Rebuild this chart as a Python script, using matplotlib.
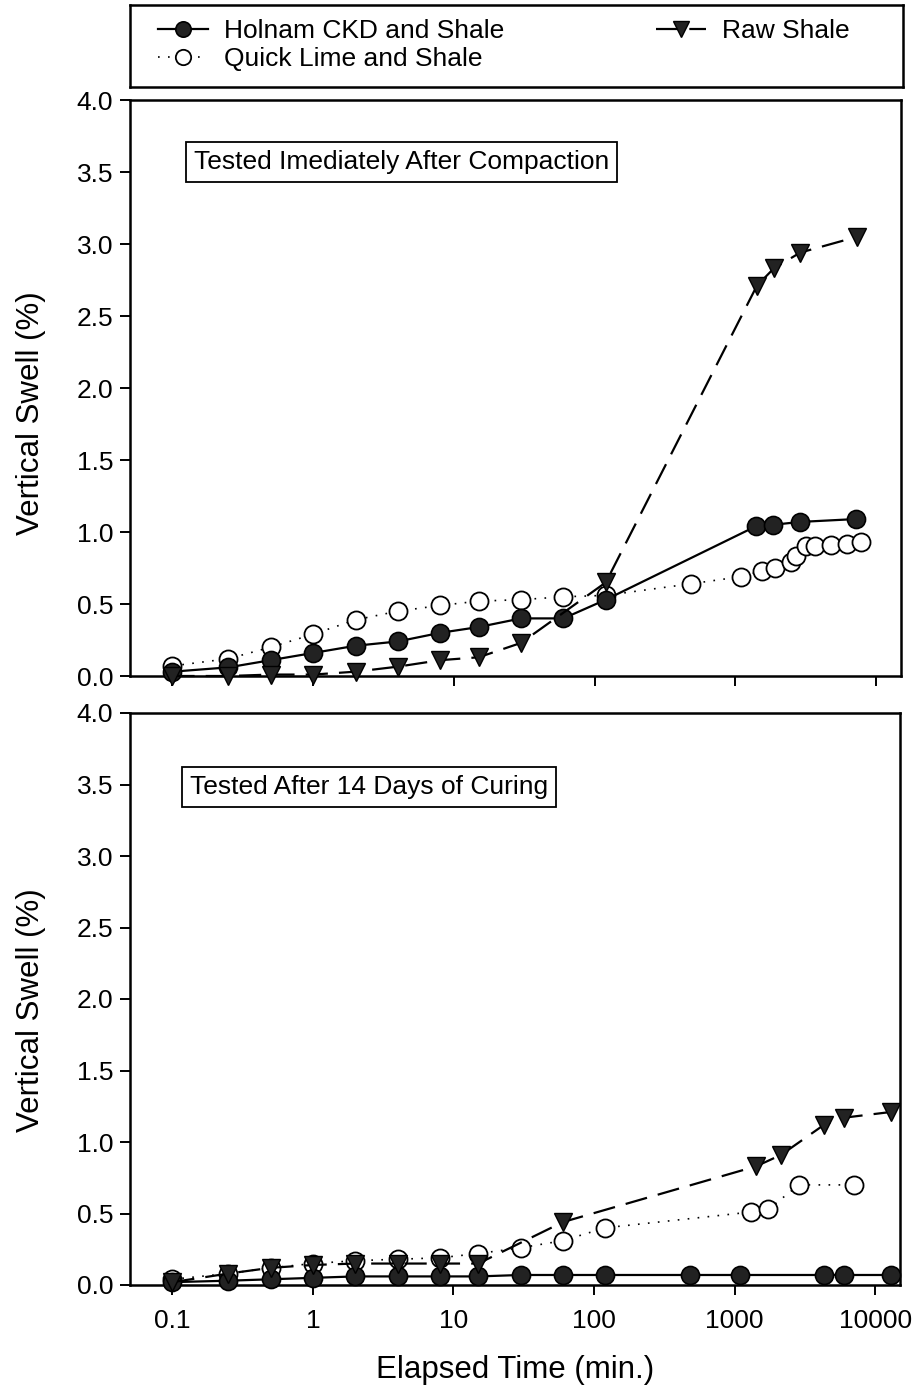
import matplotlib
matplotlib.use("Agg")
import matplotlib.pyplot as plt

plt.rcParams['font.family'] = ['Liberation Sans', 'DejaVu Sans']

# ---------------- data ----------------
# Top panel: tested immediately after compaction
top_ckd_t = [0.1, 0.25, 0.5, 1, 2, 4, 8, 15, 30, 60, 120, 1400, 1850, 2880, 7200]
top_ckd_v = [0.03, 0.06, 0.11, 0.16, 0.21, 0.24, 0.30, 0.34, 0.40, 0.40, 0.53, 1.04, 1.05, 1.07, 1.09]

top_lime_t = [0.1, 0.25, 0.5, 1, 2, 4, 8, 15, 30, 60, 120, 480, 1100, 1540, 1900, 2480, 2700, 3180, 3680, 4800, 6200, 7800]
top_lime_v = [0.07, 0.12, 0.20, 0.29, 0.39, 0.45, 0.49, 0.52, 0.53, 0.55, 0.56, 0.64, 0.69, 0.73, 0.75, 0.79, 0.83, 0.90, 0.90, 0.91, 0.92, 0.93]

top_raw_t = [0.1, 0.25, 0.5, 1, 2, 4, 8, 15, 30, 120, 1420, 1870, 2880, 7300]
top_raw_v = [0.0, 0.0, 0.01, 0.01, 0.03, 0.065, 0.11, 0.13, 0.23, 0.65, 2.71, 2.83, 2.94, 3.05]

# Bottom panel: tested after 14 days of curing
bot_ckd_t = [0.1, 0.25, 0.5, 1, 2, 4, 8, 15, 30, 60, 120, 480, 1090, 4320, 6000, 12960]
bot_ckd_v = [0.02, 0.03, 0.04, 0.05, 0.06, 0.06, 0.06, 0.06, 0.07, 0.07, 0.07, 0.07, 0.07, 0.07, 0.07, 0.07]

bot_lime_t = [0.1, 0.25, 0.5, 1, 2, 4, 8, 15, 30, 60, 120, 1300, 1740, 2860, 7100]
bot_lime_v = [0.04, 0.08, 0.12, 0.15, 0.17, 0.18, 0.19, 0.22, 0.26, 0.31, 0.40, 0.51, 0.53, 0.70, 0.70]

bot_raw_t = [0.1, 0.25, 0.5, 1, 2, 4, 8, 15, 60, 1420, 2140, 4320, 6000, 12960]
bot_raw_v = [0.02, 0.08, 0.12, 0.14, 0.15, 0.15, 0.15, 0.15, 0.44, 0.83, 0.91, 1.12, 1.17, 1.21]

series_labels = ["Holnam CKD and Shale", "Quick Lime and Shale", "Raw Shale"]
panel_notes = ["Tested Imediately After Compaction", "Tested After 14 Days of Curing"]
xtick_vals = [0.1, 1, 10, 100, 1000, 10000]
xtick_labels = ["0.1", "1", "10", "100", "1000", "10000"]
ytick_vals = [0.0, 0.5, 1.0, 1.5, 2.0, 2.5, 3.0, 3.5, 4.0]

# ---------------- figure ----------------
W, H = 914, 1390
fig = plt.figure(figsize=(W / 100, H / 100), dpi=100)

def fr(x0, y0, x1, y1):
    return [x0 / W, 1 - y1 / H, (x1 - x0) / W, (y1 - y0) / H]

ax_top = fig.add_axes(fr(130, 100, 901, 676))
ax_bot = fig.add_axes(fr(130, 713, 900, 1285))

FS_TICK = 19
FS_LAB = 22.5
MK = 13

ckd_kw = dict(color='black', lw=1.6, ls='-', marker='o', ms=MK, mfc='#222222', mec='black', mew=1.2, clip_on=False, zorder=3)
lime_kw = dict(color='black', lw=1.2, ls=(0, (1, 5)), marker='o', ms=MK, mfc='white', mec='black', mew=1.3, clip_on=False, zorder=2)
raw_kw = dict(color='black', lw=1.6, ls=(0, (10, 5)), marker='v', ms=MK, mfc='#222222', mec='black', mew=1.0, clip_on=False, zorder=4)

handles = None
for ax, (ckd, lime, raw), note, note_xy, ylab_y in [
    (ax_top, ((top_ckd_t, top_ckd_v), (top_lime_t, top_lime_v), (top_raw_t, top_raw_v)), panel_notes[0], (0.083, 0.893), 0.457),
    (ax_bot, ((bot_ckd_t, bot_ckd_v), (bot_lime_t, bot_lime_v), (bot_raw_t, bot_raw_v)), panel_notes[1], (0.078, 0.87), 0.481),
]:
    h1, = ax.plot(*ckd, label=series_labels[0], **ckd_kw)
    h2, = ax.plot(*lime, label=series_labels[1], **lime_kw)
    h3, = ax.plot(*raw, label=series_labels[2], **raw_kw)
    if handles is None:
        handles = [h1, h2, h3]
    ax.set_xscale('log')
    ax.set_xlim(0.05, 15000)
    ax.set_ylim(0, 4)
    ax.set_xticks(xtick_vals)
    ax.set_xticklabels(xtick_labels)
    ax.minorticks_off()
    ax.set_yticks(ytick_vals)
    ax.set_yticklabels([f"{v:.1f}" for v in ytick_vals])
    ax.tick_params(axis='both', direction='out', length=7, width=1.4, labelsize=FS_TICK, pad=5)
    ax.tick_params(axis='x', pad=10)
    for s in ax.spines.values():
        s.set_linewidth(1.8)
    ax.set_ylabel("Vertical Swell (%)", fontsize=FS_LAB)
    ax.yaxis.set_label_coords(-0.109, ylab_y)
    ax.text(note_xy[0], note_xy[1], note, transform=ax.transAxes, fontsize=FS_TICK,
            ha='left', va='center',
            bbox=dict(boxstyle='square,pad=0.3', fc='white', ec='black', lw=1.3))

ax_top.tick_params(axis='x', labelbottom=False)
ax_bot.set_xlabel("Elapsed Time (min.)", fontsize=FS_LAB, labelpad=16)

# legend box
ax_leg = fig.add_axes(fr(130, 5, 903, 87))
ax_leg.set_xticks([])
ax_leg.set_yticks([])
for s in ax_leg.spines.values():
    s.set_linewidth(1.8)
ax_leg.patch.set_alpha(0)

leg = fig.legend(handles, series_labels, ncol=2, loc='upper left',
                 bbox_to_anchor=(158 / W, 1 - 19 / H), bbox_transform=fig.transFigure,
                 frameon=False, fontsize=FS_TICK, numpoints=1, handlelength=1.9,
                 handletextpad=0.6, columnspacing=5.75, labelspacing=0.17,
                 borderpad=0, borderaxespad=0, markerscale=0.85)

fig.savefig("out.png", dpi=100)
